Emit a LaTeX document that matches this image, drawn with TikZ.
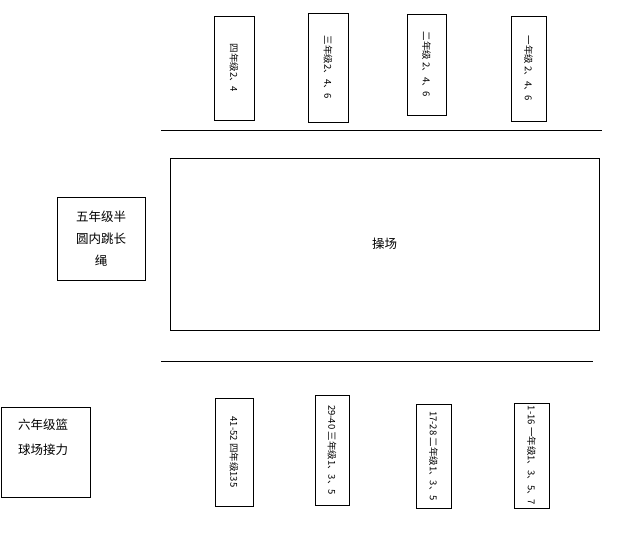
\documentclass[tikz,border=0pt]{standalone}
\usepackage{fontspec}
\setmainfont{Noto Sans CJK SC}
\begin{document}
\begin{tikzpicture}[x=1pt,y=-1pt,
    lane/.style = {rectangle,draw,semithick,inner sep=0pt,font=\fontsize{9.5}{11}\selectfont},
    area/.style = {rectangle,draw,semithick,inner sep=0pt,align=center,font=\fontsize{12.5}{22}\selectfont}]
\useasboundingbox (0,0) rectangle (643,543);
% upper row of lanes
\foreach \x/\y/\w/\h/\t/\n in {234/68/40/104/四年级2、4/ua, 328/67.5/40/109/三年级2、4、6/ub,
    426.5/64.5/39/101/二年级 2、4、6/uc, 528.5/68.5/35/105/一年级 2、4、6/ud}
    \node[lane,minimum width=\w,minimum height=\h] (\n) at (\x,\y) {\rotatebox{-90}{\t}};
% lower row of lanes
\foreach \x/\y/\w/\h/\t/\n in {234/452/38/108/41-52 四年级135/la, 332/450/34/110/29-40 三年级1、3、5/lb,
    433.5/456/35/104/17-28 二年级1、3、5/lc, 531.5/455.5/35/105/1-16 一年级1、3、5、7/ld}
    \node[lane,minimum width=\w,minimum height=\h] (\n) at (\x,\y) {\rotatebox{-90}{\t}};
\coordinate (tl) at (161,130);
\coordinate (tr) at (602,130);
\coordinate (bl) at (161,361);
\coordinate (br) at (593,361);
\draw[semithick] (tl) -- (tr);
\draw[semithick] (bl) -- (br);
\node[area,minimum width=429,minimum height=172] (field) at (384.5,244) {操场};
\node[area,minimum width=88,minimum height=83] (rope) at (101,238.5) {五年级半\\圆内跳长\\绳};
\node[area,minimum width=89,minimum height=90] (relay) at (45.5,452) {};
\node[align=left,inner sep=0pt,font=\fontsize{12.5}{25}\selectfont] (relaytext) at (43,437) {六年级篮\\球场接力};
\end{tikzpicture}
\end{document}
